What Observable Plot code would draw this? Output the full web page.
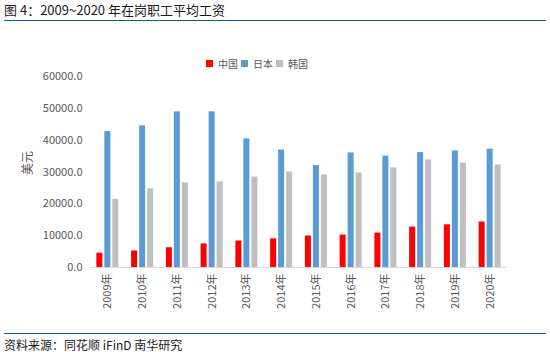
<!DOCTYPE html>
<html>
<head>
<meta charset="utf-8">
<script src="https://cdn.jsdelivr.net/npm/d3@7"></script>
<script src="https://cdn.jsdelivr.net/npm/@observablehq/plot@0.6"></script>
<style>
  html, body { margin: 0; padding: 0; background: #fff; }
  #wrap { position: relative; width: 550px; height: 352px; overflow: hidden; font-family: "Noto Sans CJK SC", "Noto Sans", sans-serif; }
  #title { position: absolute; left: 4px; top: 1px; font-size: 13px; color: #1a1a1a; line-height: 18px; white-space: nowrap; }
  #rule1 { position: absolute; left: 4px; top: 19.5px; width: 542px; height: 1.5px; background: #005bac; }
  #legend { position: absolute; left: 206px; top: 47px; }
  #chart { position: absolute; left: 0; top: 60px; }
  #rule2 { position: absolute; left: 4px; top: 332.5px; width: 542px; height: 1.5px; background: #005bac; }
  #source { position: absolute; left: 4px; top: 337px; font-size: 12px; color: #1a1a1a; line-height: 16px; white-space: nowrap; }
  #source .sp { text-decoration: underline wavy #e02020; text-decoration-thickness: 1px; text-underline-offset: 2px; }
</style>
</head>
<body>
<div id="wrap">
  <div id="title">图 4：2009~2020 年在岗职工平均工资</div>
  <div id="rule1"></div>
  <div id="legend"></div>
  <div id="chart"></div>
  <div id="rule2"></div>
  <div id="source">资料来源：同花顺 <span class="sp">iFinD</span> 南华研究</div>
</div>
<script>
const years = ["2009年","2010年","2011年","2012年","2013年","2014年","2015年","2016年","2017年","2018年","2019年","2020年"];
const series = ["中国", "日本", "韩国"];
const colors = ["#ff0000", "#5b9bd5", "#bfbfbf"];
const china = [4500, 5200, 6200, 7400, 8300, 9000, 9900, 10200, 10800, 12700, 13400, 14300];
const japan = [42700, 44500, 48900, 48900, 40400, 36900, 32000, 36000, 35000, 36100, 36600, 37200];
const korea = [21400, 24700, 26600, 26900, 28400, 30000, 29100, 29700, 31300, 33800, 32800, 32200];
const yTicks = [0, 10000, 20000, 30000, 40000, 50000, 60000];

const values = [china, japan, korea];
const rows = [];
series.forEach((s, i) => years.forEach((y, j) => rows.push({year: y, country: s, value: values[i][j]})));

const colorScale = {domain: series, range: colors};
const barW = 6, gap = 2, bandW = 3 * barW + 2 * gap;

const bars = series.map((s, i) => Plot.barY(rows.filter(r => r.country === s), {
  x: "year", y: "value", fill: "country",
  insetLeft: i * (barW + gap), insetRight: bandW - barW - i * (barW + gap)
}));

const chart = Plot.plot({
  width: 550, height: 270,
  marginLeft: 90, marginRight: 43, marginTop: 16, marginBottom: 63,
  style: {fontFamily: '"Noto Sans CJK SC", "Noto Sans", sans-serif', fontSize: "11px", color: "#595959", background: "transparent"},
  x: {domain: years, paddingInner: 0.367, paddingOuter: 0.183, round: false, label: null},
  y: {domain: [0, 60000], label: null},
  color: colorScale,
  marks: [
    ...bars,
    Plot.ruleY([0], {stroke: "#d9d9d9", strokeWidth: 1}),
    Plot.axisY({ticks: yTicks, tickSize: 0, tickPadding: 8, tickFormat: d => d.toFixed(1), label: null, fontSize: 11, fill: "#595959"}),
    Plot.axisX({tickSize: 0, tickPadding: 6, tickRotate: -90, label: null, fontSize: 11, fill: "#595959"}),
    Plot.text(["美元"], {frameAnchor: "left", dx: -62, dy: 3, rotate: -90, fontSize: 12, fill: "#595959"})
  ]
});
document.getElementById("chart").appendChild(chart);

const leg = Plot.legend({
  color: colorScale, legend: "swatches", swatchSize: 7,
  style: {fontFamily: '"Noto Sans CJK SC", sans-serif', fontSize: "10px", color: "#595959", marginLeft: 0}
});
document.getElementById("legend").appendChild(leg);
leg.querySelectorAll("span").forEach(s => { s.style.marginRight = "3px"; });
leg.querySelectorAll("svg").forEach(s => { s.style.marginRight = "5px"; });
</script>
</body>
</html>
